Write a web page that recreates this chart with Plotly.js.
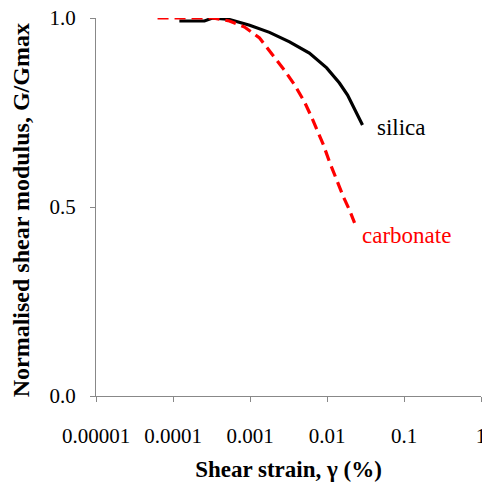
<!DOCTYPE html>
<html>
<head>
<meta charset="utf-8">
<script src="https://cdn.plot.ly/plotly-3.0.1.min.js"></script>
<style>html,body{margin:0;padding:0;background:#fff;}#chart{width:482px;height:485px;}</style>
</head>
<body>
<div id="chart"></div>
<script>
// Data
const silicaStrain = [0.000121, 0.000256, 0.000326, 0.00054, 0.00099, 0.00179, 0.00326, 0.0059, 0.0099, 0.0145, 0.0185, 0.0242, 0.0289];
const silicaG      = [0.992, 0.992, 1.0, 0.996, 0.981, 0.962, 0.937, 0.907, 0.868, 0.828, 0.796, 0.751, 0.717];
const carbStrain   = [0.000063, 0.000326, 0.00054, 0.00085, 0.00133, 0.00196, 0.0028, 0.0038, 0.0051, 0.0063, 0.0075, 0.0090, 0.0108, 0.0133, 0.0164, 0.0196, 0.0228];
const carbG        = [1.0, 1.0, 0.992, 0.976, 0.947, 0.902, 0.862, 0.823, 0.778, 0.738, 0.704, 0.664, 0.619, 0.571, 0.526, 0.492, 0.458];
const xTickVals    = [0.00001, 0.0001, 0.001, 0.01, 0.1, 1];
const xTickText    = ["0.00001", "0.0001", "0.001", "0.01", "0.1", "1"];
const yTickVals    = [0, 0.5, 1.0];
const seriesNames  = ["silica", "carbonate"];
const xTitle = "Shear strain, γ (%)";
const yTitle = "Normalised shear modulus, G/Gmax";

const font = "'Liberation Serif', 'Times New Roman', Times, serif";

const traces = [
  {x: silicaStrain, y: silicaG, name: seriesNames[0], mode: "lines",
   line: {color: "#000000", width: 3.2, shape: "linear"}},
  {x: carbStrain, y: carbG, name: seriesNames[1], mode: "lines",
   line: {color: "#ff0000", width: 3.2, dash: "11px,6px", shape: "linear"}}
];

const layout = {
  width: 482, height: 485,
  margin: {l: 96, r: 1, t: 18, b: 89},
  paper_bgcolor: "#ffffff", plot_bgcolor: "#ffffff",
  showlegend: false,
  font: {family: font, size: 21, color: "#000000"},
  xaxis: {
    type: "log", range: [-5, 0],
    tickmode: "array", tickvals: xTickVals, ticktext: xTickText,
    ticks: "outside", ticklen: 5, tickcolor: "#888888", tickwidth: 1,
    ticklabelstandoff: 16, ticklabeloverflow: "allow",
    showline: true, linecolor: "#888888", linewidth: 1,
    showgrid: false, zeroline: false, automargin: false,
    tickfont: {family: font, size: 21, color: "#000000"},
    title: {text: "<b>" + xTitle + "</b>", font: {family: font, size: 23, color: "#000000"}, standoff: 13}
  },
  yaxis: {
    range: [0, 1],
    tickmode: "array", tickvals: yTickVals, tickformat: ".1f",
    ticks: "outside", ticklen: 5, tickcolor: "#888888", tickwidth: 1,
    ticklabelstandoff: 10,
    showline: true, linecolor: "#888888", linewidth: 1,
    showgrid: false, zeroline: false, automargin: false,
    tickfont: {family: font, size: 21, color: "#000000"},
    title: {text: ""}
  },
  annotations: [
    {x: -0.195, y: 0.491, xref: "paper", yref: "paper", textangle: -90,
     text: "<b>" + yTitle + "</b>", showarrow: false, xanchor: "center", yanchor: "middle",
     font: {family: font, size: 24, color: "#000000"}},
    {x: Math.log10(silicaStrain[silicaStrain.length-1]), y: silicaG[silicaG.length-1], xref: "x", yref: "y",
     text: seriesNames[0], showarrow: false, xanchor: "left", yanchor: "middle", xshift: 13, yshift: -3,
     font: {family: font, size: 23, color: "#000000"}},
    {x: Math.log10(carbStrain[carbStrain.length-1]), y: carbG[carbG.length-1], xref: "x", yref: "y",
     text: seriesNames[1], showarrow: false, xanchor: "left", yanchor: "middle", xshift: 5, yshift: -13,
     font: {family: font, size: 23, color: "#ff0000"}}
  ]
};

Plotly.newPlot("chart", traces, layout, {displayModeBar: false, staticPlot: true});
</script>
</body>
</html>
